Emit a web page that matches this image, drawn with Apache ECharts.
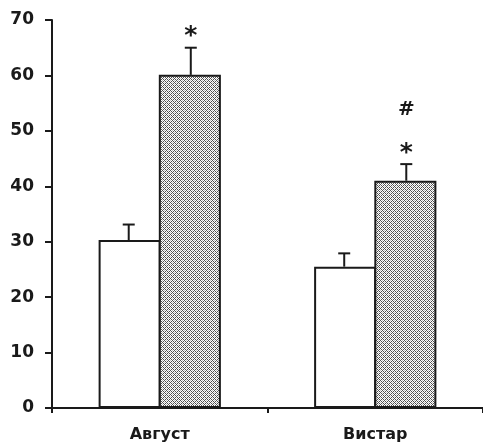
<!DOCTYPE html>
<html><head><meta charset="utf-8">
<script src="https://cdn.jsdelivr.net/npm/echarts@6/dist/echarts.min.js"></script>
<style>html,body{margin:0;padding:0;background:#fff}#c{width:483px;height:447px}</style>
</head><body><div id="c"></div>
<script>
const categories = ['Август', 'Вистар'];
const controlValues = [30.3, 25.5];
const controlErrors = [2.8, 2.4];
const treatedValues = [60.1, 41.0];
const treatedErrors = [4.9, 3.0];
const treatedMarks = [['*'], ['*', '#']];
const yTicks = [0, 10, 20, 30, 40, 50, 60, 70];

// crosshatch pattern tile
const tile = document.createElement('canvas');
tile.width = 4; tile.height = 4;
const tctx = tile.getContext('2d');
tctx.fillStyle = '#ffffff'; tctx.fillRect(0, 0, 4, 4);
for (let x = 0; x < 4; x++) for (let y = 0; y < 4; y++) {
  if ((x + y) % 4 === 0 || (x - y + 4) % 4 === 0) { tctx.fillStyle = '#505050'; tctx.fillRect(x, y, 1, 1); }
  else if ((x + y) % 2 === 0) { tctx.fillStyle = '#bdbdbd'; tctx.fillRect(x, y, 1, 1); }
}

const FONT = 'DejaVu Sans';
const BAR_FRAC = 0.288;

function errorSeries(values, errors, side) {
  return {
    type: 'custom',
    z: 5,
    data: values.map((v, i) => [i, v, errors[i]]),
    renderItem: function (params, api) {
      const idx = api.value(0);
      const top = api.value(1) + api.value(2);
      const band = api.size([1, 0])[0];
      const off = side * band * BAR_FRAC / 2;
      const pBase = api.coord([idx, api.value(1)]);
      const pTop = api.coord([idx, top]);
      const x = pBase[0] + off;
      return { type: 'group', children: [
        { type: 'line', shape: { x1: x, y1: pBase[1], x2: x, y2: pTop[1] }, style: { stroke: '#1a1a1a', lineWidth: 2 } },
        { type: 'line', shape: { x1: x - 6, y1: pTop[1], x2: x + 6, y2: pTop[1] }, style: { stroke: '#1a1a1a', lineWidth: 2 } }
      ] };
    }
  };
}

const chart = echarts.init(document.getElementById('c'), null, { renderer: 'canvas' });
chart.setOption({
  animation: false,
  backgroundColor: '#ffffff',
  grid: { left: 52, right: 0, top: 20, bottom: 39, containLabel: false },
  xAxis: {
    type: 'category',
    data: categories,
    boundaryGap: true,
    axisLine: { lineStyle: { color: '#1a1a1a', width: 2 } },
    axisTick: { show: true, length: 5, lineStyle: { color: '#1a1a1a', width: 2 } },
    axisLabel: { margin: 19, fontFamily: FONT, fontWeight: 'bold', fontSize: 16, color: '#1a1a1a' }
  },
  yAxis: {
    type: 'value',
    min: yTicks[0], max: yTicks[yTicks.length - 1], interval: 10,
    splitLine: { show: false },
    axisLine: { show: true, lineStyle: { color: '#1a1a1a', width: 2 } },
    axisTick: { show: true, length: 7, lineStyle: { color: '#1a1a1a', width: 2 } },
    axisLabel: { margin: 18, fontFamily: FONT, fontWeight: 'bold', fontSize: 17, color: '#1a1a1a' }
  },
  series: [
    {
      type: 'bar', data: controlValues, barWidth: (BAR_FRAC * 100) + '%', barGap: '-3%',
      itemStyle: { color: '#ffffff', borderColor: '#1a1a1a', borderWidth: 2 }
    },
    {
      type: 'bar', data: treatedValues, barWidth: (BAR_FRAC * 100) + '%', barGap: '-3%',
      itemStyle: { color: { image: tile, repeat: 'repeat' }, borderColor: '#1a1a1a', borderWidth: 2 }
    },
    errorSeries(controlValues, controlErrors, -1),
    errorSeries(treatedValues, treatedErrors, 1),
    {
      type: 'custom', z: 6,
      data: treatedValues.map((v, i) => [i, v + treatedErrors[i]]),
      renderItem: function (params, api) {
        const band = api.size([1, 0])[0];
        const p = api.coord([api.value(0), api.value(1)]);
        const x = p[0] + band * BAR_FRAC / 2;
        const marks = treatedMarks[params.dataIndex];
        const children = marks.map(function (s) {
          const isStar = s === '*';
          return {
            type: 'text',
            style: {
              text: s, x: x, y: p[1] - (isStar ? 11 : 54),
              align: 'center', verticalAlign: 'middle',
              fontFamily: FONT, fontWeight: 'bold', fontSize: isStar ? 25 : 20, fill: '#1a1a1a'
            }
          };
        });
        return { type: 'group', children: children };
      }
    }
  ]
});
</script>
</body></html>
